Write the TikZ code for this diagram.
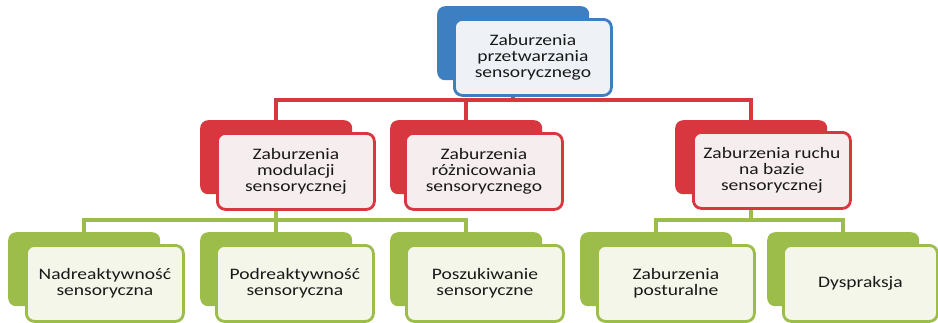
\documentclass[tikz,border=0pt]{standalone}
\usepackage{fontspec}
\setmainfont{Carlito}[FakeStretch=1.22]
\definecolor{cblue}{HTML}{3D7FC1}
\definecolor{cred}{HTML}{D8373F}
\definecolor{cgreen}{HTML}{9DBD4B}
\definecolor{fblue}{HTML}{EEF2F6}
\definecolor{fred}{HTML}{F6EEEE}
\definecolor{fgreen}{HTML}{F4F6EA}
\begin{document}
\begin{tikzpicture}[x=1pt,y=-1pt,
  backbox/.style={anchor=north west, minimum width=152pt, minimum height=74pt,
    rounded corners=8pt, inner sep=0pt, draw=none, fill=#1},
  frontbox/.style={anchor=north west, minimum width=157pt, minimum height=76pt,
    rounded corners=8pt, line width=2.8pt, inner sep=0pt, align=center,
    font=\fontsize{16}{16.2}\selectfont, text=black!90},
  bluefront/.style={frontbox, draw=cblue, fill=fblue},
  redfront/.style={frontbox, draw=cred, fill=fred},
  greenfront/.style={frontbox, draw=cgreen, fill=fgreen},
  rline/.style={draw=cred, line width=3.5pt},
  gline/.style={draw=cgreen, line width=3.5pt}]
\useasboundingbox (0,0) rectangle (938,322);
% back boxes
\node[backbox=cblue] (top) at (437,6) {};
\node[backbox=cred] (r1) at (200,120) {};
\node[backbox=cred] (r2) at (390,120) {};
\node[backbox=cred] (r3) at (675,120) {};
\node[backbox=cgreen] (ga) at (8,232) {};
\node[backbox=cgreen] (gb) at (200,232) {};
\node[backbox=cgreen] (gc) at (390,232) {};
\node[backbox=cgreen] (gd) at (580,232) {};
\node[backbox=cgreen] (ge) at (767,232) {};
% connectors
\coordinate (rbus) at (top.south |- 0,100);
\draw[rline] (top.south) -- (rbus);
\draw[rline] (r1.north) |- (rbus) -| (r3.north);
\draw[rline] (r2.north) -- (r2.north |- rbus);
\coordinate (gbus1) at (r1.south |- 0,220);
\draw[gline] (r1.south) -- (gbus1);
\draw[gline] (ga.north) |- (gbus1) -| (gc.north);
\draw[gline] (gb.north) -- (gb.north |- gbus1);
\coordinate (gbus2) at (r3.south |- 0,220);
\draw[gline] (r3.south) -- (gbus2);
\draw[gline] (gd.north) |- (gbus2) -| (ge.north);
% front boxes
\node[bluefront] (topf) at (453,18) {Zaburzenia\\przetwarzania\\sensorycznego};
\node[redfront] (r1f) at (216,132) {Zaburzenia\\modulacji\\sensorycznej};
\node[redfront] (r2f) at (404,132) {Zaburzenia\\różnicowania\\sensorycznego};
\node[redfront] (r3f) at (692,131) {Zaburzenia ruchu\\na bazie\\sensorycznej};
\node[greenfront] (gaf) at (25,244) {Nadreaktywność\\sensoryczna};
\node[greenfront] (gbf) at (215,244) {Podreaktywność\\sensoryczna};
\node[greenfront] (gcf) at (405,244) {Poszukiwanie\\sensoryczne};
\node[greenfront] (gdf) at (596,244) {Zaburzenia\\posturalne};
\node[greenfront, minimum width=154pt] (gef) at (782,244) {Dyspraksja};
\end{tikzpicture}
\end{document}
